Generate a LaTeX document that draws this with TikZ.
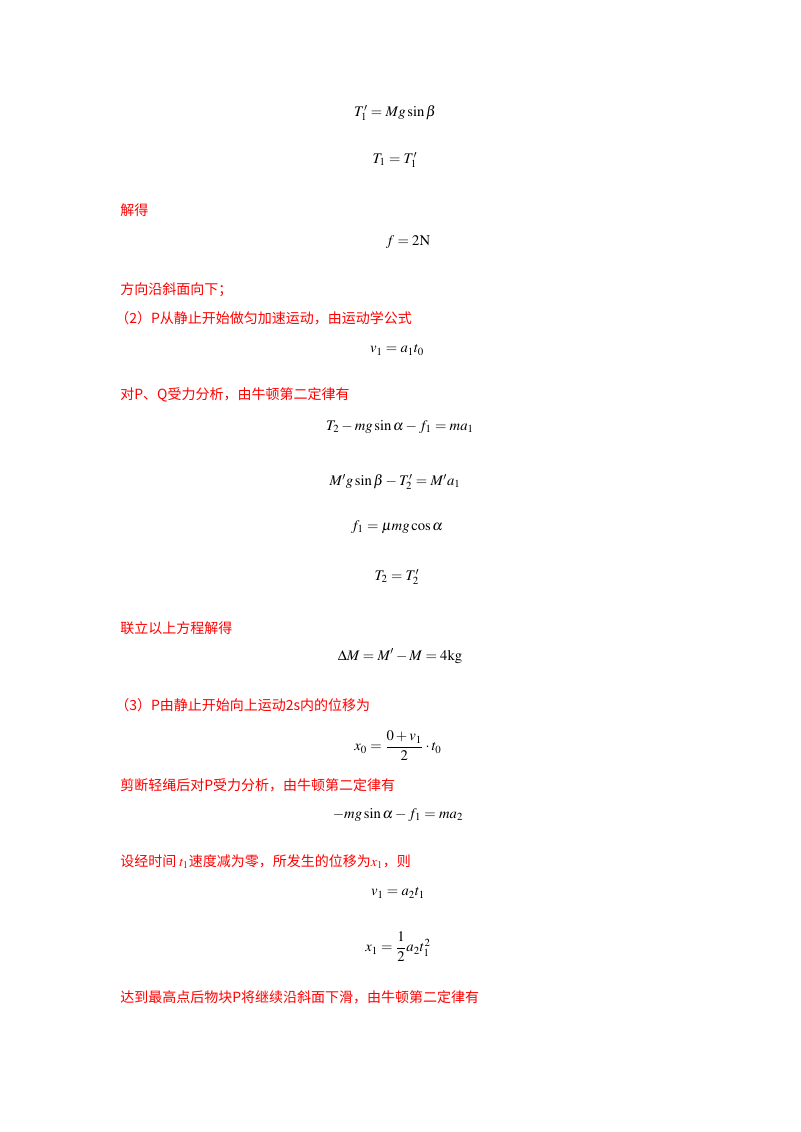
\documentclass[tikz,border=0pt]{standalone}
\usepackage{amsmath}
\usepackage{mathptmx}
\usepackage{fontspec}
\setmainfont{Liberation Serif}
\newfontfamily\cjk{Noto Sans CJK SC}
\definecolor{txtred}{RGB}{255,0,0}
\begin{document}
\begin{tikzpicture}[x=0.75pt,y=-0.75pt,
  eq/.style={anchor=center,inner sep=0pt,font=\fontsize{11}{13}\selectfont},
  rt/.style={anchor=west,inner sep=0pt,text=txtred,font=\fontsize{10.5}{12}\selectfont\cjk}]
\useasboundingbox[fill=white] (0,0) rectangle (800,1132);
\node[eq] (e1) at (395,113) {$T_1'=Mg\sin\beta$};
\node[eq] (e2) at (395,160) {$T_1=T_1'$};
\node[rt] (t1) at (120,210) {解得};
\node[eq] (e3) at (408,242) {$f=2\mathrm{N}$};
\node[rt] (t2) at (120,290) {方向沿斜面向下；};
\node[rt] (t3) at (115,318) {（2）P从静止开始做匀加速运动，由运动学公式};
\node[eq] (e4) at (397,350) {$v_1=a_1t_0$};
\node[rt] (t4) at (120,395) {对P、Q受力分析，由牛顿第二定律有};
\node[eq] (e5) at (400,427) {$T_2-mg\sin\alpha-f_1=ma_1$};
\node[eq] (e6) at (395,482) {$M'g\sin\beta-T_2'=M'a_1$};
\node[eq] (e7) at (397,527) {$f_1=\mu mg\cos\alpha$};
\node[eq] (e8) at (397,577) {$T_2=T_2'$};
\node[rt] (t5) at (120,628) {联立以上方程解得};
\node[eq] (e9) at (400,656) {$\Delta M=M'-M=4\mathrm{kg}$};
\node[rt] (t6) at (115,705) {（3）P由静止开始向上运动2s内的位移为};
\node[eq] (e10) at (398,746) {$x_0=\dfrac{0+v_1}{2}\cdot t_0$};
\node[rt] (t7) at (120,785) {剪断轻绳后对P受力分析，由牛顿第二定律有};
\node[eq] (e11) at (398,815) {$-mg\sin\alpha-f_1=ma_2$};
\node[rt] (t8) at (120,862) {设经时间 $t_1$速度减为零，所发生的位移为$x_1$，则};
\node[eq] (e12) at (398,893) {$v_1=a_2t_1$};
\node[eq] (e13) at (398,947) {$x_1=\dfrac{1}{2}a_2t_1^{2}$};
\node[rt] (t9) at (120,997) {达到最高点后物块P将继续沿斜面下滑，由牛顿第二定律有};
\end{tikzpicture}
\end{document}
